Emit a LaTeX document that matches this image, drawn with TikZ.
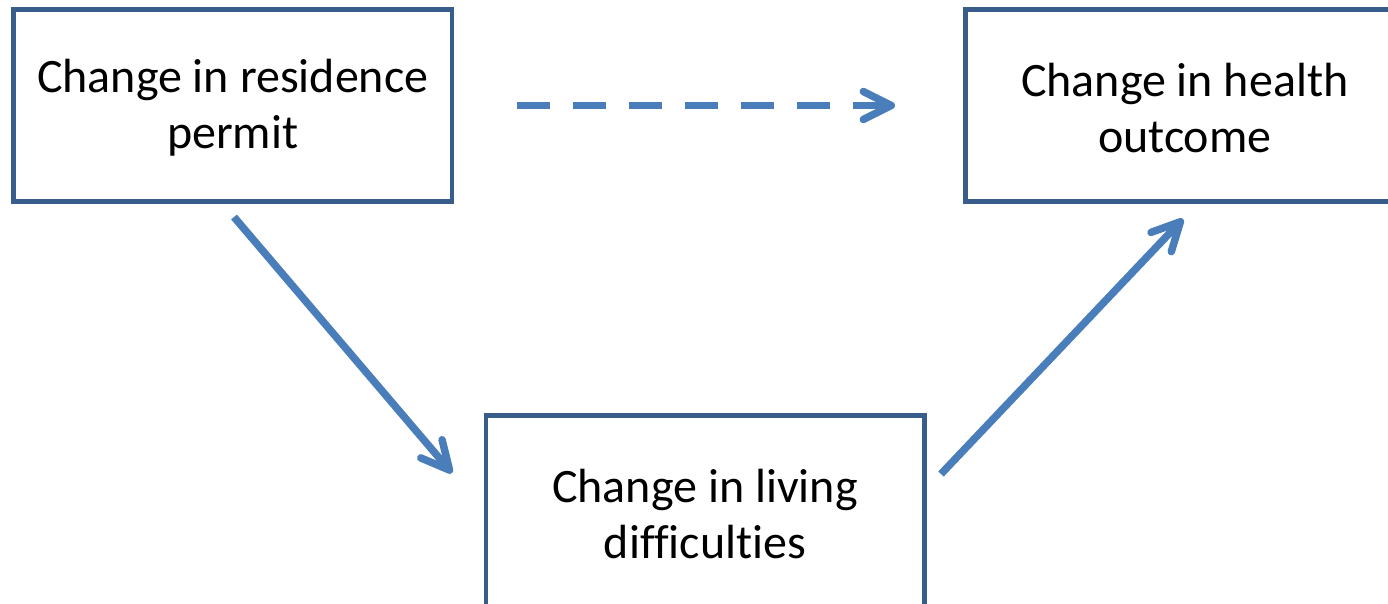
\documentclass[tikz,border=0pt]{standalone}
\usepackage{fontspec}
\setmainfont{Carlito}[Ligatures = NoCommon]
\usetikzlibrary{arrows.meta}
\definecolor{mblue}{RGB}{56, 93, 138}
\definecolor{lblue}{RGB}{74, 126, 187}
\tikzset{box/.style = {draw = mblue, line width = 2.25pt, minimum width = 219.25pt,
                       minimum height = 96pt, align = center, inner sep = 0,
                       text height = 47pt,
                       font = \fontsize{24}{28}\selectfont}}
\tikzset{link/.style = {draw = lblue, line width = 3.75pt,
                        -{Straight Barb[length = 14pt, width = 14pt, round]}}}

\begin{document}
\begin{tikzpicture}[x = 0.5pt, y = -0.5pt]
    \clip (0, 0) rectangle (1388, 604);

    \node [box] (res) at (232.75, 105.5) {Change in residence\\permit};
    \node [box] (health) at (1184.75, 105.5) {Change in health\\outcome};
    \node [box] (living) at (705, 511.5) {Change in living\\difficulties};

    \coordinate (resout) at (234, 217);
    \coordinate (livin) at (452, 473);
    \coordinate (livout) at (941, 474);
    \coordinate (healthin) at (1183, 219);

    \draw [link, dash pattern = on 16.5pt off 11.5pt, shorten < = 31.4pt, shorten > = 34.1pt] (res) -- (health);
    \draw [link] (resout) -- (livin);
    \draw [link] (livout) -- (healthin);
\end{tikzpicture}
\end{document}
